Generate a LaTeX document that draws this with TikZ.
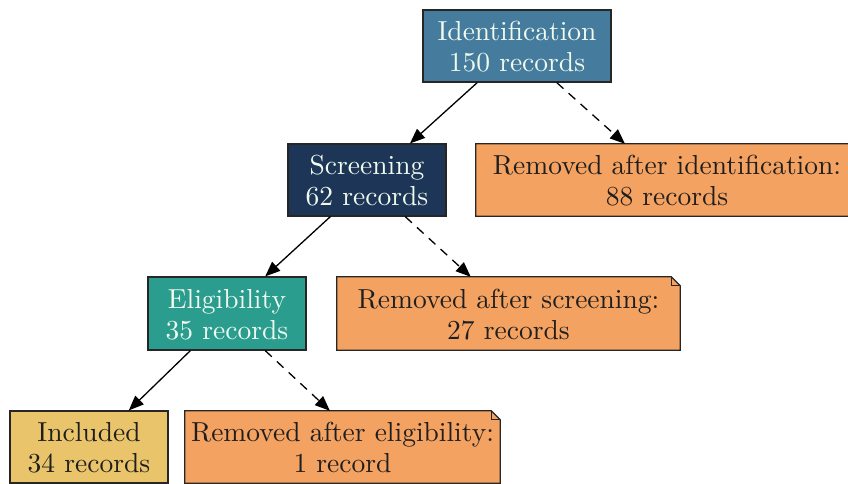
\documentclass[tikz,border=0pt]{standalone}
\usetikzlibrary{arrows.meta,calc}
\definecolor{cId}{HTML}{457B9D}
\definecolor{cScr}{HTML}{1D3557}
\definecolor{cEl}{HTML}{2A9D8F}
\definecolor{cInc}{HTML}{E9C46A}
\definecolor{cRem}{HTML}{F4A261}
\definecolor{cTxtL}{HTML}{F1FAEE}
\definecolor{cTxtD}{HTML}{1E1E1E}
\newcommand{\twolines}[2]{\raisebox{-4pt}[\height][\depth]{\scalebox{2.75}{\fontsize{10}{11.2}\selectfont\begin{tabular}{@{}c@{}}#1\\#2\end{tabular}}}}
\tikzset{
  box/.style={rectangle, draw=black!85, line width=1.2pt, inner sep=0pt, align=center},
  notebox/.style={rectangle, draw=none, fill=cRem, inner sep=0pt, align=center, text=cTxtD},
  noteline/.style={draw=black!85, line width=1.2pt, line join=miter},
  solidarr/.style={line width=1.3pt, -{Triangle[length=15pt,width=12pt]}},
  dasharr/.style={line width=1.3pt, dash pattern=on 9pt off 7pt, -{Triangle[length=15pt,width=12pt]}},
}
\newcommand{\notefold}[1]{%
  \fill[white] ($(#1.north east)+(-9,0.7)$) -- ($(#1.north east)+(0.7,0.7)$) -- ($(#1.north east)+(0.7,-9)$) -- cycle;
  \draw[noteline] (#1.north west) -- ($(#1.north east)+(-9,0)$) -- ($(#1.north east)+(0,-9)$) -- (#1.south east) -- (#1.south west) -- cycle;
  \draw[noteline, line width=0.9pt] ($(#1.north east)+(-9,0)$) -- ($(#1.north east)+(-9,-9)$) -- ($(#1.north east)+(0,-9)$);
}
\begin{document}
\begin{tikzpicture}[x=1pt,y=1pt]
\useasboundingbox (0,0) rectangle (848,-484);
\begin{scope}
\clip (0,0) rectangle (848,-484);
\node[box, fill=cId, text=cTxtL, minimum width=188, minimum height=72] (id) at (517,-46) {\twolines{Identification}{150 records}};
\node[box, fill=cScr, text=cTxtL, minimum width=158, minimum height=72] (scr) at (367,-180) {\twolines{Screening}{62 records}};
\node[notebox, minimum width=382, minimum height=72] (rid) at (667,-180) {\twolines{Removed after identification:}{88 records}};
\notefold{rid}
\node[box, fill=cEl, text=cTxtL, minimum width=158, minimum height=73] (el) at (227,-313.5) {\twolines{Eligibility}{35 records}};
\node[notebox, minimum width=343, minimum height=73] (rscr) at (508.5,-313.5) {\twolines{Removed after screening:}{27 records}};
\notefold{rscr}
\node[box, fill=cInc, text=cTxtD, minimum width=158, minimum height=72] (inc) at (89,-447) {\twolines{Included}{34 records}};
\node[notebox, minimum width=315, minimum height=72] (rel) at (342.5,-447) {\twolines{Removed after eligibility:}{1 record}};
\notefold{rel}

\draw[solidarr] ($(id.south west)!0.29!(id.south east)$) -- ($(scr.north west)!0.77!(scr.north east)$);
\draw[dasharr] ($(id.south west)!0.71!(id.south east)$) -- ($(rid.north west)!0.39!(rid.north east)$);
\draw[solidarr] ($(scr.south west)!0.27!(scr.south east)$) -- ($(el.north west)!0.74!(el.north east)$);
\draw[dasharr] ($(scr.south west)!0.74!(scr.south east)$) -- ($(rscr.north west)!0.39!(rscr.north east)$);
\draw[solidarr] ($(el.south west)!0.27!(el.south east)$) -- ($(inc.north west)!0.75!(inc.north east)$);
\draw[dasharr] ($(el.south west)!0.74!(el.south east)$) -- ($(rel.north west)!0.46!(rel.north east)$);
\end{scope}
\end{tikzpicture}
\end{document}
